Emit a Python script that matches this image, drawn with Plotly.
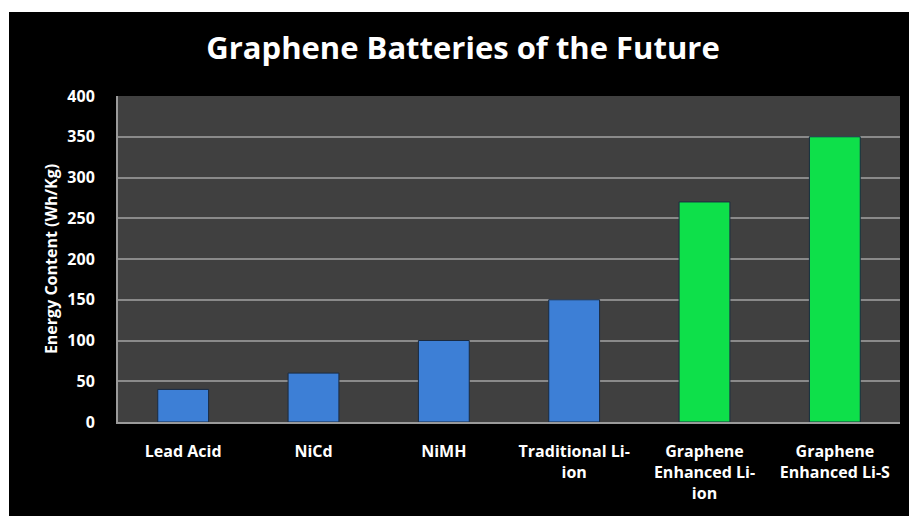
import plotly.graph_objects as go

categories = ["Lead Acid", "NiCd", "NiMH", "Traditional Li-<br>ion",
              "Graphene<br>Enhanced Li-<br>ion", "Graphene<br>Enhanced Li-S"]
values = [40, 60, 100, 150, 270, 350]
bar_colors = ["#3d7fd6", "#3d7fd6", "#3d7fd6", "#3d7fd6", "#0ee04a", "#0ee04a"]
y_ticks = [0, 50, 100, 150, 200, 250, 300, 350, 400]

W, H = 909, 516
L, R, T, B = 118, 9, 96, 94
pw, ph = W - L - R, H - T - B

def px_x(px):
    return (px - L) / pw

def px_y(py):
    return (H - B - py) / ph

fig = go.Figure()
fig.add_trace(go.Bar(
    x=categories, y=values, width=0.39,
    marker=dict(color=bar_colors, line=dict(color="#1a2a40", width=1)),
    hoverinfo="skip",
))

font_family = "Open Sans, Lato, sans-serif"

fig.update_layout(
    width=W, height=H,
    margin=dict(l=L, r=R, t=T, b=B),
    paper_bgcolor="black",
    plot_bgcolor="#404040",
    showlegend=False,
    title=dict(
        text="<b>Graphene Batteries of the Future</b>",
        x=463 / W, xanchor="center",
        y=1 - 48 / H, yanchor="middle",
        font=dict(family=font_family, size=31, color="white"),
    ),
    xaxis=dict(
        showgrid=False, showline=True, linecolor="#9a9a9a", linewidth=2,
        tickfont=dict(family=font_family, size=16, color="white", weight="bold"),
        ticks="", ticklabelstandoff=14, fixedrange=True,
    ),
    yaxis=dict(
        range=[0, 400], tickvals=y_ticks, ticktext=[str(v) for v in y_ticks],
        showgrid=True, gridcolor="#8a8a8a", gridwidth=2,
        showline=True, linecolor="#9a9a9a", linewidth=2,
        zeroline=False, ticks="", ticklabelstandoff=18,
        tickfont=dict(family=font_family, size=16, color="white", weight="bold"),
        title=dict(text="<b>Energy Content (Wh/Kg)</b>", standoff=6,
                   font=dict(family=font_family, size=16, color="white")),
        fixedrange=True,
    ),
)

# white strips at top and left edges of the picture
fig.add_shape(type="rect", xref="paper", yref="paper",
              x0=px_x(0), x1=px_x(W), y0=px_y(12), y1=px_y(0),
              fillcolor="white", line=dict(width=0), layer="above")
fig.add_shape(type="rect", xref="paper", yref="paper",
              x0=px_x(0), x1=px_x(9), y0=px_y(H), y1=px_y(0),
              fillcolor="white", line=dict(width=0), layer="above")

fig.write_html("out.html")
